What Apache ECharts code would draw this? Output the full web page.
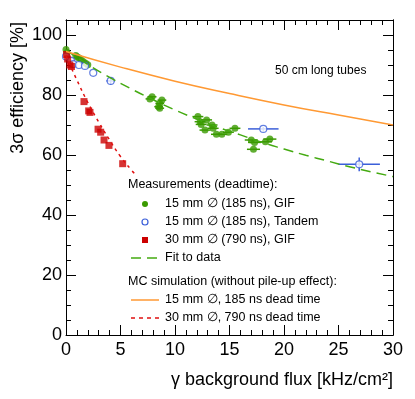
<!DOCTYPE html>
<html>
<head>
<meta charset="utf-8">
<script src="https://cdn.jsdelivr.net/npm/echarts@6/dist/echarts.min.js"></script>
<style>
  html, body { margin: 0; padding: 0; background: #fff; }
  #chart { width: 415px; height: 399px; }
</style>
</head>
<body>
<div id="chart"></div>
<script>
// measurements, 15 mm tubes at GIF: [flux, efficiency, flux error]
const gifPoints = [
  [0, 95.2, 0], [0.1, 94.2, 0], [0.9, 93.2, 0.15], [1.05, 92.7, 0.15], [1.2, 92.3, 0.15],
  [1.4, 91.7, 0.15], [1.6, 91.1, 0.15], [1.8, 90.6, 0.15], [2.0, 90.1, 0.15],
  [7.9, 79.4, 0.4], [7.7, 78.7, 0.4], [8.8, 78.3, 0.4], [8.6, 77.2, 0.4], [8.5, 76.1, 0.4], [8.6, 75.6, 0.4],
  [12.1, 72.8, 0.5], [12.9, 71.7, 0.5], [12.3, 71.1, 0.5], [12.4, 70.2, 0.5], [13.4, 70.0, 0.5],
  [12.75, 68.3, 0.5], [13.5, 68.9, 0.5], [13.8, 66.9, 0.5], [14.3, 66.9, 0.5], [14.9, 67.6, 0.5],
  [15.5, 68.9, 0.5], [17.0, 65.0, 0.6], [17.3, 64.2, 0.6], [18.7, 65.3, 0.6], [18.3, 64.4, 0.6],
  [17.2, 61.9, 0.6]
]
// measurements, 15 mm tubes at Tandem: [flux, efficiency, flux error, eff error]
const tandemPoints = [
  [0, 92.8, 0, 0], [0.46, 91.4, 0, 0], [0.67, 90.3, 0, 0], [1.19, 90.0, 0, 0], [1.74, 89.7, 0, 0],
  [2.5, 87.4, 0, 0], [4.1, 84.7, 0.4, 1.3], [18.1, 68.7, 1.4, 0.6], [26.9, 56.9, 1.9, 2.3]
]
// measurements, 30 mm tubes at GIF: [flux, efficiency]
const gif30Points = [
  [0.05, 93.5], [0.15, 92.0], [0.35, 90.0], [0.5, 89.5], [1.65, 77.8], [2.08, 74.7], [2.2, 74.2],
  [2.94, 68.6], [3.18, 67.6], [3.49, 65.0], [3.94, 63.2], [5.2, 57.1]
]
// fit to the 15 mm data
const fitFlux = [0, 2, 4, 6, 8, 10, 12, 14, 16, 18, 20, 22, 24, 26, 28, 30]
const fitEff = [95, 90.2, 85.9, 82.0, 78.4, 75.0, 72.0, 69.2, 66.7, 64.2, 62.0, 59.9, 58.0, 56.1, 54.4, 52.8]
// MC simulation, 15 mm / 185 ns
const mc15Flux = [0, 5, 10, 15, 20, 25, 30]
const mc15Eff = [94.5, 89.3, 84.6, 80.5, 76.7, 73.3, 70.0]
// MC simulation, 30 mm / 790 ns
const mc30Flux = [0, 1, 2, 3, 4, 5, 6, 6.5]
const mc30Eff = [93, 85, 77.5, 71, 65, 59.5, 55, 53]

const xTicks = [0, 5, 10, 15, 20, 25, 30]
const yTicks = [0, 20, 40, 60, 80, 100]

const FONT = 'Liberation Sans, Arial, sans-serif'
const GREEN = '#3a9a00'
const BLUE = '#3b5fd9'
const RED = '#cc0000'
const ORANGE = '#ff9933'

const zip = (a, b) => a.map((v, i) => [v, b[i]])

function errorBars (color) {
  return function (params, api) {
    const x = api.value(0)
    const y = api.value(1)
    const xe = api.value(2) || 0
    const ye = api.value(3) || 0
    const children = []
    const style = { stroke: color, lineWidth: 1.5 }
    if (xe > 0) {
      const a = api.coord([x - xe, y])
      const b = api.coord([x + xe, y])
      children.push({ type: 'line', shape: { x1: a[0], y1: a[1], x2: b[0], y2: b[1] }, style })
    }
    if (ye > 0) {
      const a = api.coord([x, y - ye])
      const b = api.coord([x, y + ye])
      children.push({ type: 'line', shape: { x1: a[0], y1: a[1], x2: b[0], y2: b[1] }, style })
    }
    return { type: 'group', children }
  }
}

const chart = echarts.init(document.getElementById('chart'))

const axisLine = { show: true, onZero: false, lineStyle: { color: '#000', width: 1 } }
const majorTick = { show: true, inside: true, length: 10, lineStyle: { color: '#000' } }
const minorTick = { show: true, inside: true, length: 5, lineStyle: { color: '#000' } }
const labelStyle = { color: '#000', fontSize: 18, fontFamily: FONT }

// legend drawn with graphic elements
const legendX = 128
const legendText = (y, text, x) => ({
  type: 'text', left: x || 165, top: y - 7,
  style: { text, fill: '#000', font: '12.5px ' + FONT }
})
const legendLine = (y, color, dash) => ({
  type: 'line', shape: { x1: 131, y1: y, x2: 159, y2: y },
  style: { stroke: color, lineWidth: 1.5, lineDash: dash }
})

chart.setOption({
  animation: false,
  grid: { left: 66, right: 22, top: 20, bottom: 64 },
  xAxis: [{
    type: 'value', min: 0, max: 30, interval: 5, position: 'bottom',
    axisLine, axisTick: majorTick,
    minorTick: Object.assign({ splitNumber: 5 }, minorTick),
    splitLine: { show: false },
    axisLabel: Object.assign({ margin: 6, formatter: v => xTicks.includes(v) ? String(v) : '' }, labelStyle)
  }, {
    type: 'value', min: 0, max: 30, interval: 5, position: 'top',
    axisLine, axisTick: majorTick,
    minorTick: Object.assign({ splitNumber: 5 }, minorTick),
    splitLine: { show: false }, axisLabel: { show: false }
  }],
  yAxis: [{
    type: 'value', min: 0, max: 105, interval: 20, position: 'left',
    axisLine, axisTick: majorTick, splitLine: { show: false },
    axisLabel: Object.assign({ margin: 4, showMaxLabel: false, formatter: v => yTicks.includes(v) ? String(v) : '' }, labelStyle)
  }, {
    type: 'value', min: 0, max: 105, interval: 5, position: 'left',
    axisLine, axisTick: minorTick, splitLine: { show: false }, axisLabel: { show: false }
  }, {
    type: 'value', min: 0, max: 105, interval: 20, position: 'right',
    axisLine, axisTick: majorTick, splitLine: { show: false }, axisLabel: { show: false }
  }, {
    type: 'value', min: 0, max: 105, interval: 5, position: 'right',
    axisLine, axisTick: minorTick, splitLine: { show: false }, axisLabel: { show: false }
  }],
  graphic: [
    {
      type: 'text', right: 22, top: 371,
      style: { text: 'γ background flux [kHz/cm²]', fill: '#000', font: '18px ' + FONT }
    },
    {
      // axis title aligned to the top end of the axis
      type: 'text', x: 9, y: 22, rotation: Math.PI / 2,
      style: { text: '3σ efficiency [%]', fill: '#000', font: '18px ' + FONT, textAlign: 'right', textVerticalAlign: 'top' }
    },
    {
      type: 'text', left: 275, top: 65,
      style: { text: '50 cm long tubes', fill: '#000', font: '12px ' + FONT }
    },
    legendText(185, 'Measurements (deadtime):', legendX),
    { type: 'circle', shape: { cx: 145, cy: 204, r: 3 }, style: { fill: GREEN } },
    legendText(204, '15 mm ∅ (185 ns), GIF'),
    { type: 'circle', shape: { cx: 145, cy: 222, r: 3 }, style: { fill: '#fff', stroke: BLUE, lineWidth: 1.2 } },
    legendText(222, '15 mm ∅ (185 ns), Tandem'),
    { type: 'rect', shape: { x: 142, y: 237, width: 6, height: 6 }, style: { fill: RED } },
    legendText(240, '30 mm ∅ (790 ns), GIF'),
    legendLine(258, '#44aa11', [10, 6]),
    legendText(258, 'Fit to data'),
    legendText(282, 'MC simulation (without pile-up effect):', legendX),
    legendLine(300, ORANGE),
    legendText(300, '15 mm ∅, 185 ns dead time'),
    legendLine(318, '#e01010', [4, 4]),
    legendText(318, '30 mm ∅, 790 ns dead time')
  ],
  series: [{
    name: 'Fit to data', type: 'line', smooth: true, symbol: 'none',
    data: zip(fitFlux, fitEff),
    lineStyle: { color: '#44aa11', width: 1.5, type: [10, 6] }
  }, {
    name: 'MC 15 mm', type: 'line', smooth: true, symbol: 'none',
    data: zip(mc15Flux, mc15Eff),
    lineStyle: { color: ORANGE, width: 1.5 }
  }, {
    name: 'MC 30 mm', type: 'line', smooth: true, symbol: 'none',
    data: zip(mc30Flux, mc30Eff),
    lineStyle: { color: '#e01010', width: 1.5, type: [3, 4] }
  }, {
    name: 'GIF errors', type: 'custom', renderItem: errorBars(GREEN),
    data: gifPoints.map(p => [p[0], p[1], p[2], 0])
  }, {
    name: '15 mm GIF', type: 'scatter', symbol: 'circle', symbolSize: 7,
    data: gifPoints.map(p => [p[0], p[1]]),
    itemStyle: { color: GREEN }
  }, {
    name: 'Tandem errors', type: 'custom', renderItem: errorBars(BLUE),
    data: tandemPoints
  }, {
    name: '15 mm Tandem', type: 'scatter', symbol: 'circle', symbolSize: 7,
    data: tandemPoints.map(p => [p[0], p[1]]),
    itemStyle: { color: '#fff', borderColor: BLUE, borderWidth: 1.2 }
  }, {
    name: '30 mm GIF', type: 'scatter', symbol: 'rect', symbolSize: 7,
    data: gif30Points,
    itemStyle: { color: RED }
  }]
})
</script>
</body>
</html>
